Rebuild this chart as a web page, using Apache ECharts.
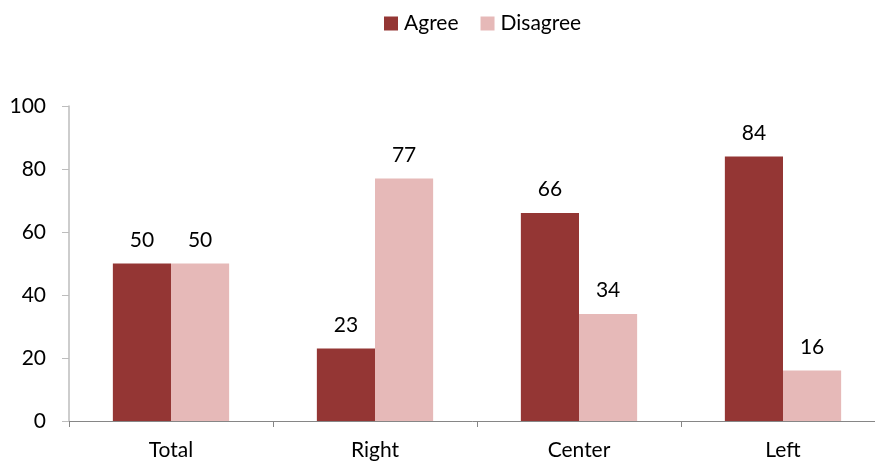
<!DOCTYPE html>
<html><head><meta charset="utf-8">
<script src="https://cdn.jsdelivr.net/npm/echarts@6/dist/echarts.min.js"></script>
<style>html,body{margin:0;padding:0;background:#fff}#c{width:875px;height:464px}</style>
</head><body><div id="c"></div>
<script>
const categories = ["Total", "Right", "Center", "Left"];
const agree = [50, 23, 66, 84];
const disagree = [50, 77, 34, 16];
const yTicks = [0, 20, 40, 60, 80, 100];

const FONT = "Lato";
const FS = 21;
const chart = echarts.init(document.getElementById('c'));
chart.setOption({
  animation: false,
  textStyle: { fontFamily: FONT },
  legend: {
    top: 8, left: 379, itemWidth: 14, itemHeight: 14, itemGap: 22, icon: 'rect',
    textStyle: { fontFamily: FONT, fontSize: FS, color: '#000', padding: [0, 0, 0, 1] },
    data: ['Agree', 'Disagree']
  },
  grid: { left: 69, width: 816, top: 106, height: 315, containLabel: false, outerBoundsMode: 'none' },
  xAxis: {
    type: 'category', data: categories,
    axisLine: { lineStyle: { color: '#868686' } },
    axisTick: { show: true, length: 6, lineStyle: { color: '#868686' } },
    axisLabel: { color: '#000', fontSize: FS, fontFamily: FONT, margin: 19 }
  },
  yAxis: {
    type: 'value', min: yTicks[0], max: yTicks[yTicks.length - 1], interval: 20,
    axisLine: { show: true, lineStyle: { color: '#BDBDBD', width: 1.5 } },
    axisTick: { show: true, length: 7, lineStyle: { color: '#BDBDBD' } },
    splitLine: { show: false },
    axisLabel: { color: '#000', fontSize: FS, fontFamily: FONT, margin: 23 }
  },
  series: [
    { name: 'Agree', type: 'bar', data: agree, barGap: '0%', barCategoryGap: '43%',
      itemStyle: { color: '#943634' },
      label: { show: true, position: 'top', distance: 13, color: '#000', fontSize: FS, fontFamily: FONT } },
    { name: 'Disagree', type: 'bar', data: disagree,
      itemStyle: { color: '#E6B9B8' },
      label: { show: true, position: 'top', distance: 13, color: '#000', fontSize: FS, fontFamily: FONT } }
  ]
});
</script></body></html>
